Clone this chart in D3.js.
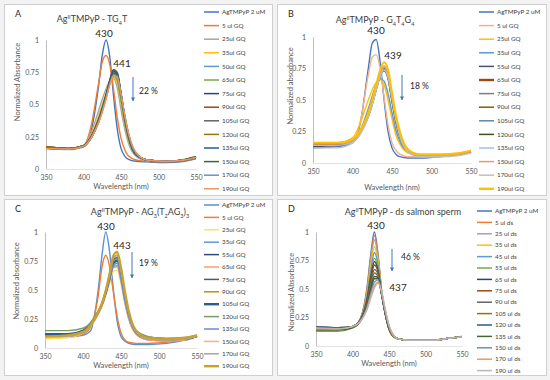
<!DOCTYPE html>
<html>
<head>
<meta charset="utf-8">
<script src="https://cdn.jsdelivr.net/npm/d3@7"></script>
<style>
  body { margin: 0; background: #f3f3f3; }
  svg { display: block; font-family: Lato, 'Open Sans', sans-serif; }
</style>
</head>
<body>
<svg width="550" height="380"></svg>
<script>
// shared wavelength grid (nm) and tick labels
const wavelengths = [350, 380, 400, 410, 420, 425, 430, 435, 440, 445, 450, 455, 460, 470, 485, 510, 535, 550];
const ticksX = [350, 400, 450, 500, 550];
const ticksY = [0, 0.25, 0.5, 0.75, 1];

// A - TG4T
const labelsA = ['AgTMPyP 2 uM', '5 ul GQ', '25ul GQ', '35ul GQ', '50ul GQ', '65ul GQ', '75ul GQ', '90ul GQ',
  '105ul GQ', '120ul GQ', '135ul GQ', '150ul GQ', '170ul GQ', '190ul GQ'];
const valuesA = [
  [0.16, 0.155, 0.17, 0.29, 0.64, 0.88, 1.0, 0.87, 0.57, 0.31, 0.16, 0.1, 0.075, 0.06, 0.055, 0.05, 0.06, 0.08],
  [0.17, 0.16, 0.18, 0.33, 0.66, 0.83, 0.88, 0.81, 0.62, 0.4, 0.24, 0.15, 0.1, 0.07, 0.06, 0.055, 0.065, 0.08],
  [0.16, 0.15, 0.18, 0.28, 0.45, 0.54, 0.62, 0.68, 0.7, 0.63, 0.46, 0.31, 0.2, 0.1, 0.065, 0.06, 0.07, 0.09],
  [0.17, 0.16, 0.18, 0.26, 0.41, 0.5, 0.59, 0.67, 0.71, 0.67, 0.51, 0.34, 0.22, 0.11, 0.07, 0.06, 0.07, 0.09],
  [0.17, 0.16, 0.18, 0.25, 0.39, 0.48, 0.58, 0.68, 0.74, 0.7, 0.54, 0.36, 0.23, 0.11, 0.07, 0.06, 0.07, 0.09],
  [0.16, 0.155, 0.18, 0.25, 0.38, 0.47, 0.57, 0.67, 0.72, 0.69, 0.54, 0.37, 0.24, 0.11, 0.07, 0.06, 0.075, 0.095],
  [0.17, 0.16, 0.18, 0.25, 0.38, 0.47, 0.57, 0.69, 0.77, 0.74, 0.58, 0.39, 0.25, 0.11, 0.07, 0.06, 0.07, 0.09],
  [0.17, 0.16, 0.18, 0.25, 0.38, 0.47, 0.57, 0.68, 0.76, 0.73, 0.58, 0.4, 0.26, 0.12, 0.07, 0.06, 0.07, 0.085],
  [0.16, 0.155, 0.18, 0.24, 0.37, 0.46, 0.56, 0.68, 0.77, 0.75, 0.59, 0.4, 0.26, 0.12, 0.07, 0.06, 0.07, 0.09],
  [0.17, 0.16, 0.18, 0.24, 0.37, 0.46, 0.56, 0.67, 0.75, 0.73, 0.58, 0.4, 0.26, 0.12, 0.07, 0.06, 0.07, 0.09],
  [0.16, 0.155, 0.175, 0.24, 0.37, 0.46, 0.56, 0.68, 0.76, 0.74, 0.59, 0.41, 0.27, 0.12, 0.07, 0.06, 0.07, 0.09],
  [0.16, 0.155, 0.175, 0.24, 0.36, 0.45, 0.55, 0.66, 0.74, 0.73, 0.58, 0.41, 0.27, 0.12, 0.07, 0.06, 0.075, 0.095],
  [0.16, 0.155, 0.175, 0.24, 0.36, 0.45, 0.55, 0.66, 0.73, 0.72, 0.58, 0.41, 0.27, 0.12, 0.07, 0.06, 0.07, 0.09],
  [0.16, 0.155, 0.175, 0.24, 0.36, 0.44, 0.54, 0.65, 0.72, 0.71, 0.58, 0.42, 0.28, 0.13, 0.07, 0.06, 0.07, 0.09]
];

// B - G4T4G4
const labelsB = ['AgTMPyP  2 uM', '5 ul GQ', '25ul GQ', '35ul GQ', '55ul GQ', '65ul GQ', '75ul GQ', '90ul GQ',
  '105ul GQ', '120ul GQ', '135ul GQ', '150ul GQ', '170ul GQ', '190ul GQ'];
const valuesB = [
  [0.12, 0.13, 0.16, 0.32, 0.75, 0.95, 0.98, 0.8, 0.5, 0.25, 0.12, 0.07, 0.05, 0.04, 0.04, 0.05, 0.07, 0.08],
  [0.14, 0.14, 0.17, 0.33, 0.7, 0.84, 0.86, 0.75, 0.52, 0.3, 0.16, 0.1, 0.07, 0.05, 0.05, 0.05, 0.07, 0.08],
  [0.16, 0.16, 0.2, 0.32, 0.5, 0.58, 0.64, 0.66, 0.62, 0.5, 0.35, 0.22, 0.15, 0.08, 0.06, 0.06, 0.07, 0.09],
  [0.14, 0.14, 0.17, 0.26, 0.43, 0.53, 0.62, 0.67, 0.65, 0.55, 0.4, 0.26, 0.17, 0.09, 0.06, 0.06, 0.07, 0.09],
  [0.13, 0.14, 0.17, 0.24, 0.38, 0.48, 0.6, 0.71, 0.76, 0.68, 0.5, 0.33, 0.21, 0.1, 0.06, 0.06, 0.07, 0.09],
  [0.15, 0.15, 0.18, 0.25, 0.38, 0.48, 0.6, 0.7, 0.75, 0.68, 0.5, 0.33, 0.21, 0.1, 0.06, 0.06, 0.07, 0.09],
  [0.14, 0.14, 0.17, 0.24, 0.37, 0.47, 0.58, 0.69, 0.73, 0.67, 0.5, 0.34, 0.22, 0.1, 0.06, 0.06, 0.07, 0.09],
  [0.15, 0.15, 0.18, 0.25, 0.38, 0.48, 0.6, 0.71, 0.76, 0.7, 0.52, 0.35, 0.22, 0.1, 0.06, 0.06, 0.07, 0.09],
  [0.14, 0.14, 0.17, 0.24, 0.37, 0.47, 0.58, 0.69, 0.74, 0.68, 0.51, 0.34, 0.22, 0.1, 0.06, 0.06, 0.07, 0.09],
  [0.14, 0.14, 0.17, 0.24, 0.37, 0.47, 0.59, 0.7, 0.75, 0.69, 0.52, 0.35, 0.22, 0.1, 0.06, 0.06, 0.07, 0.09],
  [0.14, 0.14, 0.17, 0.24, 0.37, 0.47, 0.59, 0.7, 0.76, 0.7, 0.53, 0.36, 0.23, 0.1, 0.06, 0.06, 0.07, 0.09],
  [0.15, 0.15, 0.18, 0.25, 0.38, 0.48, 0.6, 0.72, 0.77, 0.71, 0.54, 0.36, 0.23, 0.11, 0.06, 0.06, 0.07, 0.09],
  [0.12, 0.12, 0.16, 0.23, 0.36, 0.46, 0.58, 0.69, 0.74, 0.68, 0.51, 0.34, 0.21, 0.09, 0.05, 0.05, 0.06, 0.08],
  [0.16, 0.16, 0.19, 0.26, 0.4, 0.5, 0.62, 0.74, 0.8, 0.74, 0.56, 0.38, 0.25, 0.11, 0.07, 0.07, 0.08, 0.1]
];

// C - AG3(T2AG3)3
const labelsC = ['AgTMPyP 2 uM', '5 ul GQ', '25ul GQ', '35ul GQ', '55ul GQ', '65ul GQ', '75ul GQ', '90ul GQ',
  '105ul GQ', '120ul GQ', '135ul GQ', '150ul GQ', '170ul GQ', '190ul GQ'];
const valuesC = [
  [0.1, 0.1, 0.11, 0.15, 0.5, 0.8, 1.0, 0.83, 0.5, 0.23, 0.1, 0.06, 0.04, 0.03, 0.03, 0.04, 0.07, 0.1],
  [0.09, 0.09, 0.12, 0.18, 0.45, 0.7, 0.8, 0.7, 0.48, 0.27, 0.13, 0.07, 0.05, 0.04, 0.04, 0.05, 0.07, 0.1],
  [0.08, 0.09, 0.13, 0.19, 0.29, 0.36, 0.45, 0.56, 0.66, 0.67, 0.55, 0.38, 0.25, 0.12, 0.07, 0.06, 0.07, 0.1],
  [0.1, 0.1, 0.14, 0.2, 0.3, 0.37, 0.47, 0.59, 0.7, 0.71, 0.58, 0.4, 0.26, 0.12, 0.07, 0.06, 0.07, 0.1],
  [0.12, 0.12, 0.15, 0.21, 0.31, 0.38, 0.48, 0.61, 0.74, 0.76, 0.63, 0.44, 0.29, 0.13, 0.08, 0.07, 0.08, 0.1],
  [0.09, 0.1, 0.13, 0.19, 0.29, 0.36, 0.46, 0.58, 0.69, 0.7, 0.58, 0.4, 0.26, 0.12, 0.07, 0.06, 0.07, 0.1],
  [0.11, 0.11, 0.14, 0.2, 0.31, 0.38, 0.49, 0.62, 0.76, 0.78, 0.65, 0.45, 0.3, 0.13, 0.08, 0.07, 0.08, 0.1],
  [0.1, 0.11, 0.14, 0.2, 0.31, 0.39, 0.5, 0.64, 0.78, 0.8, 0.67, 0.47, 0.31, 0.14, 0.08, 0.07, 0.08, 0.1],
  [0.12, 0.12, 0.15, 0.21, 0.31, 0.38, 0.48, 0.6, 0.73, 0.75, 0.63, 0.45, 0.3, 0.14, 0.09, 0.08, 0.08, 0.1],
  [0.15, 0.15, 0.17, 0.22, 0.32, 0.39, 0.49, 0.62, 0.75, 0.77, 0.64, 0.46, 0.31, 0.15, 0.1, 0.08, 0.09, 0.11],
  [0.1, 0.1, 0.14, 0.2, 0.3, 0.37, 0.47, 0.6, 0.71, 0.73, 0.6, 0.42, 0.28, 0.13, 0.08, 0.07, 0.08, 0.1],
  [0.09, 0.1, 0.13, 0.19, 0.3, 0.38, 0.5, 0.64, 0.79, 0.82, 0.68, 0.48, 0.32, 0.14, 0.08, 0.07, 0.08, 0.1],
  [0.1, 0.1, 0.13, 0.19, 0.3, 0.38, 0.49, 0.63, 0.78, 0.8, 0.67, 0.47, 0.31, 0.14, 0.08, 0.07, 0.08, 0.1],
  [0.1, 0.11, 0.14, 0.2, 0.31, 0.39, 0.5, 0.65, 0.8, 0.83, 0.7, 0.5, 0.33, 0.15, 0.09, 0.08, 0.09, 0.11]
];

// D - ds salmon sperm
const labelsD = ['AgTMPyP 2 uM', '5 ul ds', '25 ul ds', '35 ul ds', '45 ul ds', '55 ul ds', '65 ul ds', '75 ul ds',
  '90 ul ds', '105 ul ds', '120 ul ds', '135 ul ds', '150 ul ds', '170 ul ds', '190 ul ds'];
const valuesD = [
  [0.17, 0.16, 0.17, 0.23, 0.52, 0.8, 1.0, 0.8, 0.48, 0.28, 0.15, 0.09, 0.07, 0.055, 0.05, 0.05, 0.07, 0.08],
  [0.16, 0.16, 0.17, 0.23, 0.5, 0.77, 0.97, 0.79, 0.48, 0.28, 0.15, 0.09, 0.07, 0.055, 0.05, 0.05, 0.07, 0.08],
  [0.15, 0.15, 0.17, 0.22, 0.48, 0.74, 0.93, 0.77, 0.47, 0.28, 0.15, 0.09, 0.07, 0.055, 0.05, 0.05, 0.07, 0.08],
  [0.15, 0.15, 0.17, 0.22, 0.46, 0.7, 0.87, 0.74, 0.47, 0.28, 0.15, 0.09, 0.07, 0.055, 0.05, 0.05, 0.07, 0.08],
  [0.16, 0.15, 0.17, 0.22, 0.44, 0.66, 0.82, 0.71, 0.46, 0.28, 0.15, 0.09, 0.07, 0.055, 0.05, 0.05, 0.07, 0.08],
  [0.13, 0.13, 0.16, 0.21, 0.42, 0.62, 0.77, 0.68, 0.46, 0.28, 0.15, 0.09, 0.065, 0.055, 0.05, 0.05, 0.07, 0.08],
  [0.17, 0.16, 0.17, 0.22, 0.41, 0.6, 0.74, 0.66, 0.45, 0.28, 0.15, 0.09, 0.07, 0.055, 0.05, 0.05, 0.07, 0.08],
  [0.16, 0.15, 0.17, 0.22, 0.4, 0.58, 0.71, 0.65, 0.45, 0.28, 0.15, 0.09, 0.07, 0.055, 0.05, 0.05, 0.07, 0.085],
  [0.17, 0.16, 0.17, 0.22, 0.38, 0.55, 0.67, 0.63, 0.45, 0.28, 0.15, 0.09, 0.07, 0.055, 0.05, 0.05, 0.07, 0.08],
  [0.15, 0.15, 0.17, 0.22, 0.37, 0.52, 0.64, 0.61, 0.45, 0.29, 0.16, 0.09, 0.07, 0.055, 0.05, 0.05, 0.07, 0.08],
  [0.16, 0.15, 0.17, 0.22, 0.36, 0.5, 0.61, 0.6, 0.45, 0.29, 0.16, 0.1, 0.07, 0.055, 0.05, 0.05, 0.07, 0.08],
  [0.14, 0.14, 0.16, 0.21, 0.35, 0.48, 0.59, 0.59, 0.45, 0.29, 0.16, 0.1, 0.07, 0.055, 0.05, 0.05, 0.07, 0.08],
  [0.16, 0.15, 0.17, 0.21, 0.34, 0.46, 0.56, 0.58, 0.46, 0.3, 0.17, 0.1, 0.07, 0.055, 0.05, 0.05, 0.07, 0.08],
  [0.16, 0.15, 0.17, 0.21, 0.33, 0.44, 0.53, 0.56, 0.47, 0.31, 0.18, 0.1, 0.07, 0.055, 0.05, 0.05, 0.07, 0.08],
  [0.15, 0.15, 0.17, 0.21, 0.32, 0.42, 0.51, 0.55, 0.48, 0.32, 0.18, 0.11, 0.07, 0.055, 0.05, 0.05, 0.07, 0.08]
];

// line colours (Excel-like)
const colorsA = ['#4472C4', '#ED7D31', '#A5A5A5', '#FFC000', '#5B9BD5', '#70AD47', '#264478', '#9E480E',
  '#636363', '#997300', '#255E91', '#43682B', '#698ED0', '#F1975A'];
const colorsB = ['#4472C4', '#F4B183', '#FFC000', '#5B9BD5', '#44546A', '#9E480E', '#7F7F7F', '#806000',
  '#5B87B5', '#3B5320', '#9DC3E6', '#F1975A', '#BFBFBF', '#FFC000'];
const colorsC = ['#5B8FD5', '#ED7D31', '#FFE066', '#5B9BD5', '#2F4A7A', '#F4A06A', '#595959', '#BF9000',
  '#255E91', '#7A9A68', '#698ED0', '#F4B183', '#A6A6A6', '#C9A227'];
const colorsD = ['#4472C4', '#ED7D31', '#A5A5A5', '#FFC000', '#5B9BD5', '#70AD47', '#264478', '#9E480E',
  '#636363', '#997300', '#255E91', '#43682B', '#698ED0', '#F1975A', '#B7B7B7'];
const thickB = [5, 13];
const thickC = [8, 13];

const sup = 'II';
const panels = [
  { letter: 'A', labels: labelsA, values: valuesA, colors: colorsA, thick: [],
    box: [4, 4, 272, 195], plot: [46, 196, 40, 169], titleX: 92, titleY: 22,
    title: [['Ag'], [sup, 'super'], ['TMPyP - TG'], ['4', 'sub'], ['T']],
    yTitle: 'Normalized Absorbance', yTitleX: 17, yTitleY: 82, xTitleY: 189,
    legend: [204, 12, 13.6],
    peak1: [104, 33, '430'], peak2: [122, 63, '441'], arrow: [133, 77, 101], pct: [139, 91, '22 %'] },
  { letter: 'B', labels: labelsB, values: valuesB, colors: colorsB, thick: thickB,
    box: [277, 4, 546, 195], plot: [313, 471, 37, 163], titleX: 375, titleY: 23,
    title: [['Ag'], [sup, 'super'], ['TMPyP - G'], ['4', 'sub'], ['T'], ['4', 'sub'], ['G'], ['4', 'sub']],
    yTitle: 'Normalized absorbance', yTitleX: 290, yTitleY: 86, xTitleY: 190,
    legend: [479, 12, 13.6],
    peak1: [376, 30, '430'], peak2: [393, 55, '439'], arrow: [402, 75, 100], pct: [410, 86, '18 %'] },
  { letter: 'C', labels: labelsC, values: valuesC, colors: colorsC, thick: thickC,
    box: [4, 199, 272, 375], plot: [45, 197, 232, 348], titleX: 140, titleY: 215,
    title: [['Ag'], [sup, 'super'], ['TMPyP - AG'], ['3', 'sub'], ['(T'], ['2', 'sub'], ['AG'], ['3', 'sub'], [')'], ['3', 'sub']],
    yTitle: 'Normalized absorbance', yTitleX: 16, yTitleY: 281, xTitleY: 368,
    legend: [204, 205, 12.4],
    peak1: [106, 226, '430'], peak2: [122, 245, '443'], arrow: [132, 252, 278], pct: [139, 263, '19 %'] },
  { letter: 'D', labels: labelsD, values: valuesD, colors: colorsD, thick: [],
    box: [277, 199, 546, 375], plot: [316, 462, 232, 346], titleX: 403, titleY: 215,
    title: [['Ag'], [sup, 'super'], ['TMPyP - ds salmon sperm']],
    yTitle: 'Normalized Absorbance', yTitleX: 291, yTitleY: 292, xTitleY: 366,
    legend: [477, 211, 11.4],
    peak1: [376, 225, '430'], peak2: [398, 287, '437'], arrow: [392, 249, 271], pct: [401, 257, '46 %'] }
];

const svg = d3.select('svg');

svg.append('defs').append('marker')
  .attr('id', 'arrowhead')
  .attr('viewBox', '0 0 10 10')
  .attr('refX', 9).attr('refY', 5)
  .attr('markerWidth', 4).attr('markerHeight', 4)
  .attr('orient', 'auto')
  .append('path')
  .attr('d', 'M0,0 L10,5 L0,10 z')
  .attr('fill', '#4472C4');

function drawPanel(p) {
  const g = svg.append('g');
  const [bx0, by0, bx1, by1] = p.box;

  g.append('rect')
    .attr('x', bx0 + 0.5).attr('y', by0 + 0.5)
    .attr('width', bx1 - bx0).attr('height', by1 - by0)
    .attr('fill', '#fff')
    .attr('stroke', '#cfcfcf');

  const x = d3.scaleLinear().domain([350, 550]).range([p.plot[0], p.plot[1]]);
  const y = d3.scaleLinear().domain([0, 1]).range([p.plot[3], p.plot[2]]);

  // axes
  const yAxis = g.append('g')
    .attr('transform', `translate(${p.plot[0]},0)`)
    .call(d3.axisLeft(y).tickValues(ticksY).tickSize(0).tickSizeOuter(0).tickPadding(7).tickFormat(d => d));
  const xAxis = g.append('g')
    .attr('transform', `translate(0,${p.plot[3]})`)
    .call(d3.axisBottom(x).tickValues(ticksX).tickSize(0).tickSizeOuter(0).tickPadding(6));

  yAxis.select('.domain').attr('stroke', '#bfbfbf');
  xAxis.select('.domain').attr('stroke', '#e3e3e3');
  g.selectAll('.tick text')
    .attr('fill', '#595959')
    .attr('font-size', 7)
    .attr('font-family', 'Lato, sans-serif');

  // spectra
  const line = d3.line()
    .x((d, i) => x(wavelengths[i]))
    .y(d => y(d))
    .curve(d3.curveMonotoneX);

  g.append('g')
    .selectAll('path')
    .data(p.values)
    .enter()
    .append('path')
    .attr('d', d => line(d))
    .attr('fill', 'none')
    .attr('stroke', (d, i) => p.colors[i])
    .attr('stroke-width', (d, i) => p.thick.includes(i) ? 2 : 1.4);

  // legend
  const [lx, ly, step] = p.legend;
  const items = g.append('g')
    .selectAll('g')
    .data(p.labels)
    .enter()
    .append('g')
    .attr('transform', (d, i) => `translate(${lx},${ly + i * step})`);

  items.append('line')
    .attr('x1', 0).attr('x2', 15)
    .attr('stroke', (d, i) => p.colors[i])
    .attr('stroke-width', (d, i) => p.thick.includes(i) ? 2.4 : 1.5);

  items.append('text')
    .attr('x', 18)
    .attr('dy', '0.35em')
    .attr('font-size', 6.3)
    .attr('fill', '#404040')
    .text(d => d);

  // titles
  g.append('text')
    .attr('x', bx0 + 11).attr('y', by0 + 13)
    .attr('font-size', 9)
    .attr('fill', '#262626')
    .text(p.letter);

  const title = g.append('text')
    .attr('x', p.titleX).attr('y', p.titleY)
    .attr('text-anchor', 'middle')
    .attr('font-size', 9)
    .attr('fill', '#404040');
  p.title.forEach(([t, shift]) => {
    const ts = title.append('tspan').text(t);
    if (shift) ts.attr('baseline-shift', shift).attr('font-size', 5.5);
  });

  g.append('text')
    .attr('transform', `translate(${p.yTitleX},${p.yTitleY}) rotate(-90)`)
    .attr('text-anchor', 'middle')
    .attr('dy', '0.35em')
    .attr('font-size', 7.5)
    .attr('fill', '#595959')
    .text(p.yTitle);

  g.append('text')
    .attr('x', (p.plot[0] + p.plot[1]) / 2)
    .attr('y', p.xTitleY)
    .attr('text-anchor', 'middle')
    .attr('font-size', 7.5)
    .attr('fill', '#595959')
    .text('Wavelength (nm)');

  // peak annotations
  [p.peak1, p.peak2].forEach(([px, py, t]) => {
    g.append('text')
      .attr('x', px).attr('y', py)
      .attr('dy', '0.35em')
      .attr('text-anchor', 'middle')
      .attr('font-size', 10)
      .attr('fill', '#262626')
      .text(t);
  });

  g.append('line')
    .attr('x1', p.arrow[0]).attr('x2', p.arrow[0])
    .attr('y1', p.arrow[1]).attr('y2', p.arrow[2])
    .attr('stroke', '#4472C4')
    .attr('stroke-width', 1)
    .attr('marker-end', 'url(#arrowhead)');

  g.append('text')
    .attr('x', p.pct[0]).attr('y', p.pct[1])
    .attr('dy', '0.35em')
    .attr('font-size', 8.5)
    .attr('fill', '#262626')
    .text(p.pct[2]);
}

panels.forEach(drawPanel);
</script>
</body>
</html>
